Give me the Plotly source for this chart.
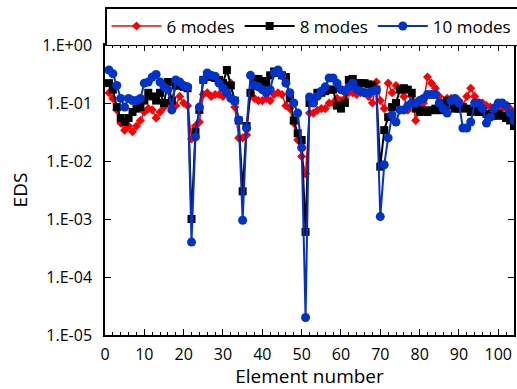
import plotly.graph_objects as go

elements = list(range(1, 105))

modes6 = [0.15, 0.12, 0.076, 0.045, 0.034, 0.04, 0.032, 0.04, 0.05, 0.07,
          0.08, 0.076, 0.055, 0.07, 0.085, 0.10, 0.076, 0.09, 0.13, 0.10,
          0.09, 0.024, 0.04, 0.047, 0.14, 0.15, 0.13, 0.14, 0.14, 0.13,
          0.20, 0.22, 0.085, 0.025, 0.025, 0.028, 0.15, 0.12, 0.11, 0.11,
          0.12, 0.11, 0.14, 0.15, 0.14, 0.09, 0.08, 0.045, 0.023, 0.012,
          0.006, 0.067, 0.067, 0.075, 0.08, 0.08, 0.10, 0.10, 0.12, 0.11,
          0.12, 0.15, 0.15, 0.14, 0.15, 0.15, 0.13, 0.10, 0.23, 0.11,
          0.08, 0.22, 0.15, 0.20, 0.17, 0.13, 0.075, 0.13, 0.05, 0.08,
          0.10, 0.28, 0.22, 0.18, 0.13, 0.10, 0.12, 0.12, 0.12, 0.11,
          0.09, 0.13, 0.18, 0.13, 0.10, 0.10, 0.09, 0.085, 0.085, 0.085,
          0.08, 0.08, 0.08, 0.065]

modes8 = [0.22, 0.17, 0.085, 0.055, 0.047, 0.055, 0.07, 0.08, 0.085, 0.11,
          0.15, 0.13, 0.11, 0.15, 0.10, 0.23, 0.11, 0.20, 0.20, 0.19,
          0.18, 0.001, 0.032, 0.076, 0.25, 0.30, 0.28, 0.27, 0.25, 0.22,
          0.37, 0.20, 0.11, 0.05, 0.003, 0.04, 0.15, 0.25, 0.26, 0.24,
          0.22, 0.30, 0.35, 0.33, 0.30, 0.28, 0.12, 0.05, 0.03, 0.023,
          0.0006, 0.10, 0.11, 0.15, 0.15, 0.16, 0.17, 0.17, 0.09, 0.08,
          0.10, 0.25, 0.26, 0.22, 0.22, 0.22, 0.21, 0.20, 0.17, 0.008,
          0.034, 0.057, 0.085, 0.10, 0.17, 0.18, 0.17, 0.15, 0.08, 0.07,
          0.075, 0.07, 0.075, 0.08, 0.075, 0.10, 0.11, 0.09, 0.08, 0.08,
          0.085, 0.08, 0.07, 0.075, 0.07, 0.07, 0.065, 0.06, 0.06, 0.065,
          0.06, 0.055, 0.05, 0.04]

modes10 = [0.37, 0.32, 0.20, 0.12, 0.085, 0.12, 0.11, 0.11, 0.12, 0.22,
           0.23, 0.28, 0.31, 0.23, 0.19, 0.17, 0.076, 0.25, 0.23, 0.20,
           0.19, 0.0004, 0.026, 0.085, 0.25, 0.33, 0.30, 0.29, 0.22, 0.18,
           0.15, 0.12, 0.11, 0.051, 0.00095, 0.037, 0.30, 0.20, 0.19, 0.17,
           0.15, 0.17, 0.33, 0.37, 0.30, 0.22, 0.15, 0.10, 0.067, 0.017,
           0.00002, 0.127, 0.10, 0.13, 0.16, 0.19, 0.27, 0.27, 0.22, 0.17,
           0.16, 0.19, 0.22, 0.17, 0.16, 0.15, 0.15, 0.16, 0.17, 0.0011,
           0.0086, 0.025, 0.062, 0.047, 0.076, 0.076, 0.09, 0.10, 0.10, 0.11,
           0.12, 0.14, 0.14, 0.14, 0.10, 0.08, 0.067, 0.11, 0.12, 0.10,
           0.037, 0.037, 0.047, 0.10, 0.10, 0.08, 0.045, 0.057, 0.08, 0.10,
           0.10, 0.09, 0.067, 0.05]

y_tickvals = [1, 0.1, 0.01, 0.001, 0.0001, 0.00001]
y_ticktext = ["1.E+00", "1.E-01", "1.E-02", "1.E-03", "1.E-04", "1.E-05"]
x_tickvals = [0, 10, 20, 30, 40, 50, 60, 70, 80, 90, 100]

FONT = "Open Sans, DejaVu Sans, sans-serif"

fig = go.Figure()
fig.add_trace(go.Scatter(
    x=elements, y=modes6, name="6 modes", mode="lines+markers",
    line=dict(color="#ff0000", width=1.5),
    marker=dict(symbol="diamond", size=7, color="#ff0000")))
fig.add_trace(go.Scatter(
    x=elements, y=modes8, name="8 modes", mode="lines+markers",
    line=dict(color="#000000", width=2),
    marker=dict(symbol="square", size=8, color="#000000")))
fig.add_trace(go.Scatter(
    x=elements, y=modes10, name="10 modes", mode="lines+markers",
    line=dict(color="#0033cc", width=2),
    marker=dict(symbol="circle", size=9, color="#0033cc")))

fig.update_layout(
    width=517, height=389,
    margin=dict(l=105, r=3, t=45, b=54, autoexpand=False),
    paper_bgcolor="white", plot_bgcolor="white",
    font=dict(family=FONT, size=15, color="#000000"),
    showlegend=True,
    legend=dict(orientation="h", x=0.0, xanchor="left",
                yref="container", y=1 - 7 / 389, yanchor="top",
                bordercolor="#000000", borderwidth=1.5, bgcolor="white",
                font=dict(family=FONT, size=17), itemwidth=50,
                tracegroupgap=0),
)

fig.update_xaxes(
    range=[0, 104], tickvals=x_tickvals, ticktext=[str(v) for v in x_tickvals],
    ticks="inside", ticklen=6, tickwidth=1.3, tickcolor="#000000",
    minor=dict(dtick=2, ticks="inside", ticklen=3, tickcolor="#000000", tickwidth=1),
    showline=True, linecolor="#000000", linewidth=1.5, mirror="allticks",
    showgrid=False, zeroline=False, automargin=False,
    tickfont=dict(size=16), ticklabelstandoff=4,
    title=dict(text="Element number", font=dict(size=19), standoff=0),
)
fig.update_yaxes(
    type="log", range=[-5, 0], tickvals=y_tickvals, ticktext=y_ticktext,
    ticks="inside", ticklen=6, tickwidth=1.3, tickcolor="#000000",
    showline=True, linecolor="#000000", linewidth=1.5, mirror="allticks",
    showgrid=False, zeroline=False, automargin=False,
    tickfont=dict(size=16), ticklabelstandoff=8,
    title=dict(text="EDS", font=dict(size=19), standoff=10),
)

fig.write_html("out.html", config={"displayModeBar": False},
               post_script="document.body.style.margin='0px';document.body.style.padding='0px';")
